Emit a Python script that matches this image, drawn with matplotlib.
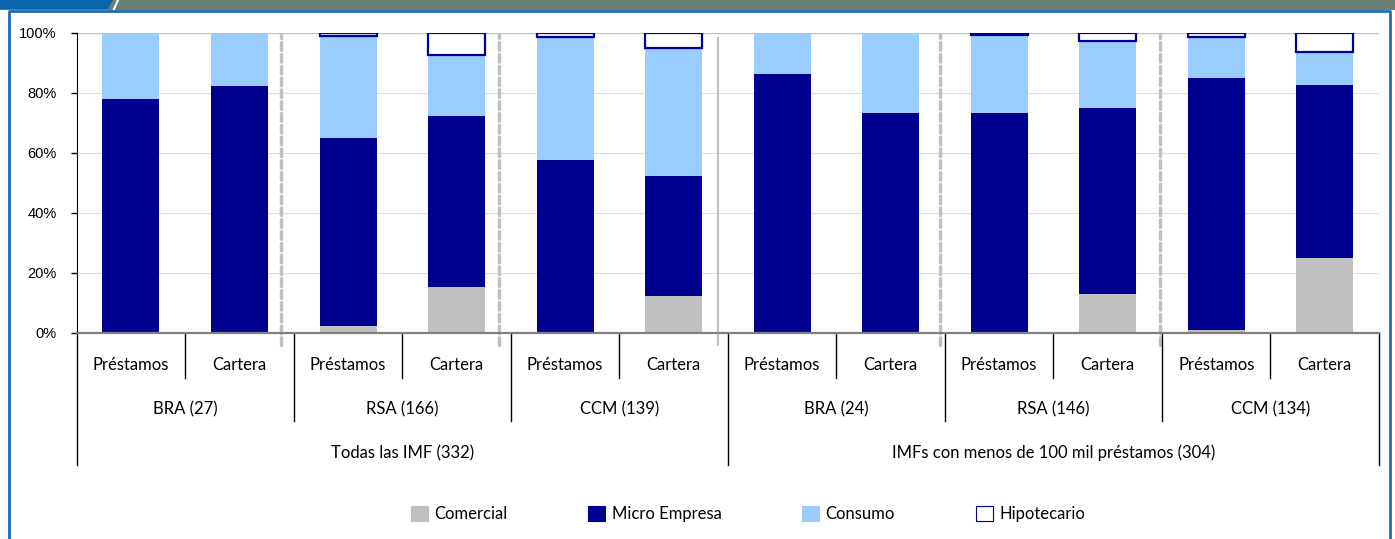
import numpy as np
import matplotlib
matplotlib.use("Agg")
from matplotlib import pyplot as plt
from matplotlib.patches import Rectangle, Polygon, Patch
from matplotlib.lines import Line2D

# Datos (% de cada tipo de credito)
etiquetas = ["Préstamos", "Cartera"] * 6
grupos = ["BRA (27)", "RSA (166)", "CCM (139)", "BRA (24)", "RSA (146)", "CCM (134)"]
bloques = ["Todas las IMF (332)", "IMFs con menos de 100 mil préstamos (304)"]

comercial = [0.0, 0.0, 2.2, 15.4, 0.2, 12.2, 0.0, 0.5, 0.5, 13.0, 1.1, 24.9]
micro = [78.0, 82.3, 62.7, 57.0, 57.5, 40.2, 86.2, 72.8, 72.9, 61.9, 83.9, 57.9]
consumo = [22.0, 17.7, 34.1, 20.4, 41.1, 42.5, 13.8, 26.7, 25.9, 22.5, 13.8, 10.8]
hipotecario = [0.0, 0.0, 1.0, 7.2, 1.2, 5.1, 0.0, 0.0, 0.7, 2.6, 1.2, 6.4]

series = ["Comercial", "Micro Empresa", "Consumo", "Hipotecario"]
colores = ["#C0C0C0", "#000090", "#99CCFF", "white"]
azul_borde = "#000099"

W, H = 1395, 539
fig = plt.figure(figsize=(W / 100, H / 100), dpi=100)

# Marco de la figura
fig.patches.append(Rectangle((0, 1 - 10 / H), 1, 10 / H, transform=fig.transFigure,
                             facecolor="#6B8075", edgecolor="none"))
fig.patches.append(Polygon([(0, 1), (113 / W, 1), (108 / W, 1 - 9 / H), (0, 1 - 9 / H)],
                           closed=True, transform=fig.transFigure,
                           facecolor="#0A66AA", edgecolor="none"))
fig.add_artist(Line2D([114 / W, 118 / W], [1 - 9 / H, 1], transform=fig.transFigure,
                      color="white", lw=1.5))
fig.add_artist(Line2D([9 / W, 9 / W, 1390 / W, 1390 / W], [0, 1 - 11 / H, 1 - 11 / H, 0],
                      transform=fig.transFigure, color="#1A6EB2", lw=2))

ax = fig.add_axes([76.7 / W, 1 - 333 / H, (1379 - 76.7) / W, 300 / H])

x = np.arange(len(etiquetas))
ancho = 0.525
base = np.zeros(len(x))
for nombre, vals, col in zip(series, [comercial, micro, consumo, hipotecario], colores):
    vals = np.array(vals)
    if nombre == "Hipotecario":
        ec = [azul_borde if v > 0 else "none" for v in vals]
        ax.bar(x, vals, ancho, bottom=base, color=col, edgecolor=ec, linewidth=1.6, zorder=3)
    else:
        ax.bar(x, vals, ancho, bottom=base, color=col, edgecolor="none", zorder=3)
    base += vals

ax.set_xlim(-0.5, len(x) - 0.5)
ax.set_ylim(0, 100)
ax.set_yticks(np.arange(0, 101, 20))
ax.set_yticklabels([f"{v}%" for v in range(0, 101, 20)], family="Liberation Sans", fontsize=10.5)
ax.set_xticks([])
ax.tick_params(axis="y", direction="out", length=4.5, width=1, color="black", pad=10)
for v in range(20, 100, 20):
    ax.axhline(v, color="#DDDDDD", lw=0.8, zorder=1)
ax.axhline(100, color="#C0C0C0", lw=1, zorder=1)
for s in ["top", "right"]:
    ax.spines[s].set_visible(False)
ax.spines["left"].set_color("black")
ax.spines["bottom"].set_color("#808080")
ax.spines["bottom"].set_linewidth(1.6)
ax.spines["bottom"].set_zorder(4)

# Separadores verticales entre grupos
for xs in [1.383, 3.39, 7.457, 9.486]:
    ax.plot([xs, xs], [-4, 99.5], color="#C0C0C0", lw=2.5, ls=(0, (2.2, 1.2)),
            dash_capstyle="round", clip_on=False, zorder=2)
ax.plot([5.41, 5.41], [-4, 98.3], color="#C0C0C0", lw=1.5, clip_on=False, zorder=2)

# Etiquetas de categoria en tres niveles
trans = ax.get_xaxis_transform()
fuente = "Lato"
tam = 12
for i, lab in enumerate(etiquetas):
    ax.text(i, -0.106, lab, transform=trans, ha="center", va="center", fontsize=tam, family=fuente)
for k in range(len(x) + 1):
    xb = k - 0.5
    if k % 6 == 0:
        y1 = -0.44
    elif k % 2 == 0:
        y1 = -0.293
    else:
        y1 = -0.15
    ax.add_line(Line2D([xb, xb], [0, y1], transform=trans, color="black", lw=1, clip_on=False))
for g, lab in enumerate(grupos):
    ax.text(2 * g + 0.5, -0.253, lab, transform=trans, ha="center", va="center", fontsize=tam, family=fuente)
for b, lab in enumerate(bloques):
    ax.text(6 * b + 2.5, -0.4, lab, transform=trans, ha="center", va="center", fontsize=tam, family=fuente)

# Leyenda
handles = [Patch(facecolor=c, edgecolor=(azul_borde if n == "Hipotecario" else c), lw=0.8)
           for n, c in zip(series, colores)]
fig.legend(handles, series, loc="center", bbox_to_anchor=(748 / W, 1 - 514 / H), ncol=4,
           frameon=False, handlelength=1.0, handleheight=1.0, handletextpad=0.4,
           columnspacing=4.85, prop={"family": fuente, "size": tam})

fig.savefig("out.png", dpi=100)
